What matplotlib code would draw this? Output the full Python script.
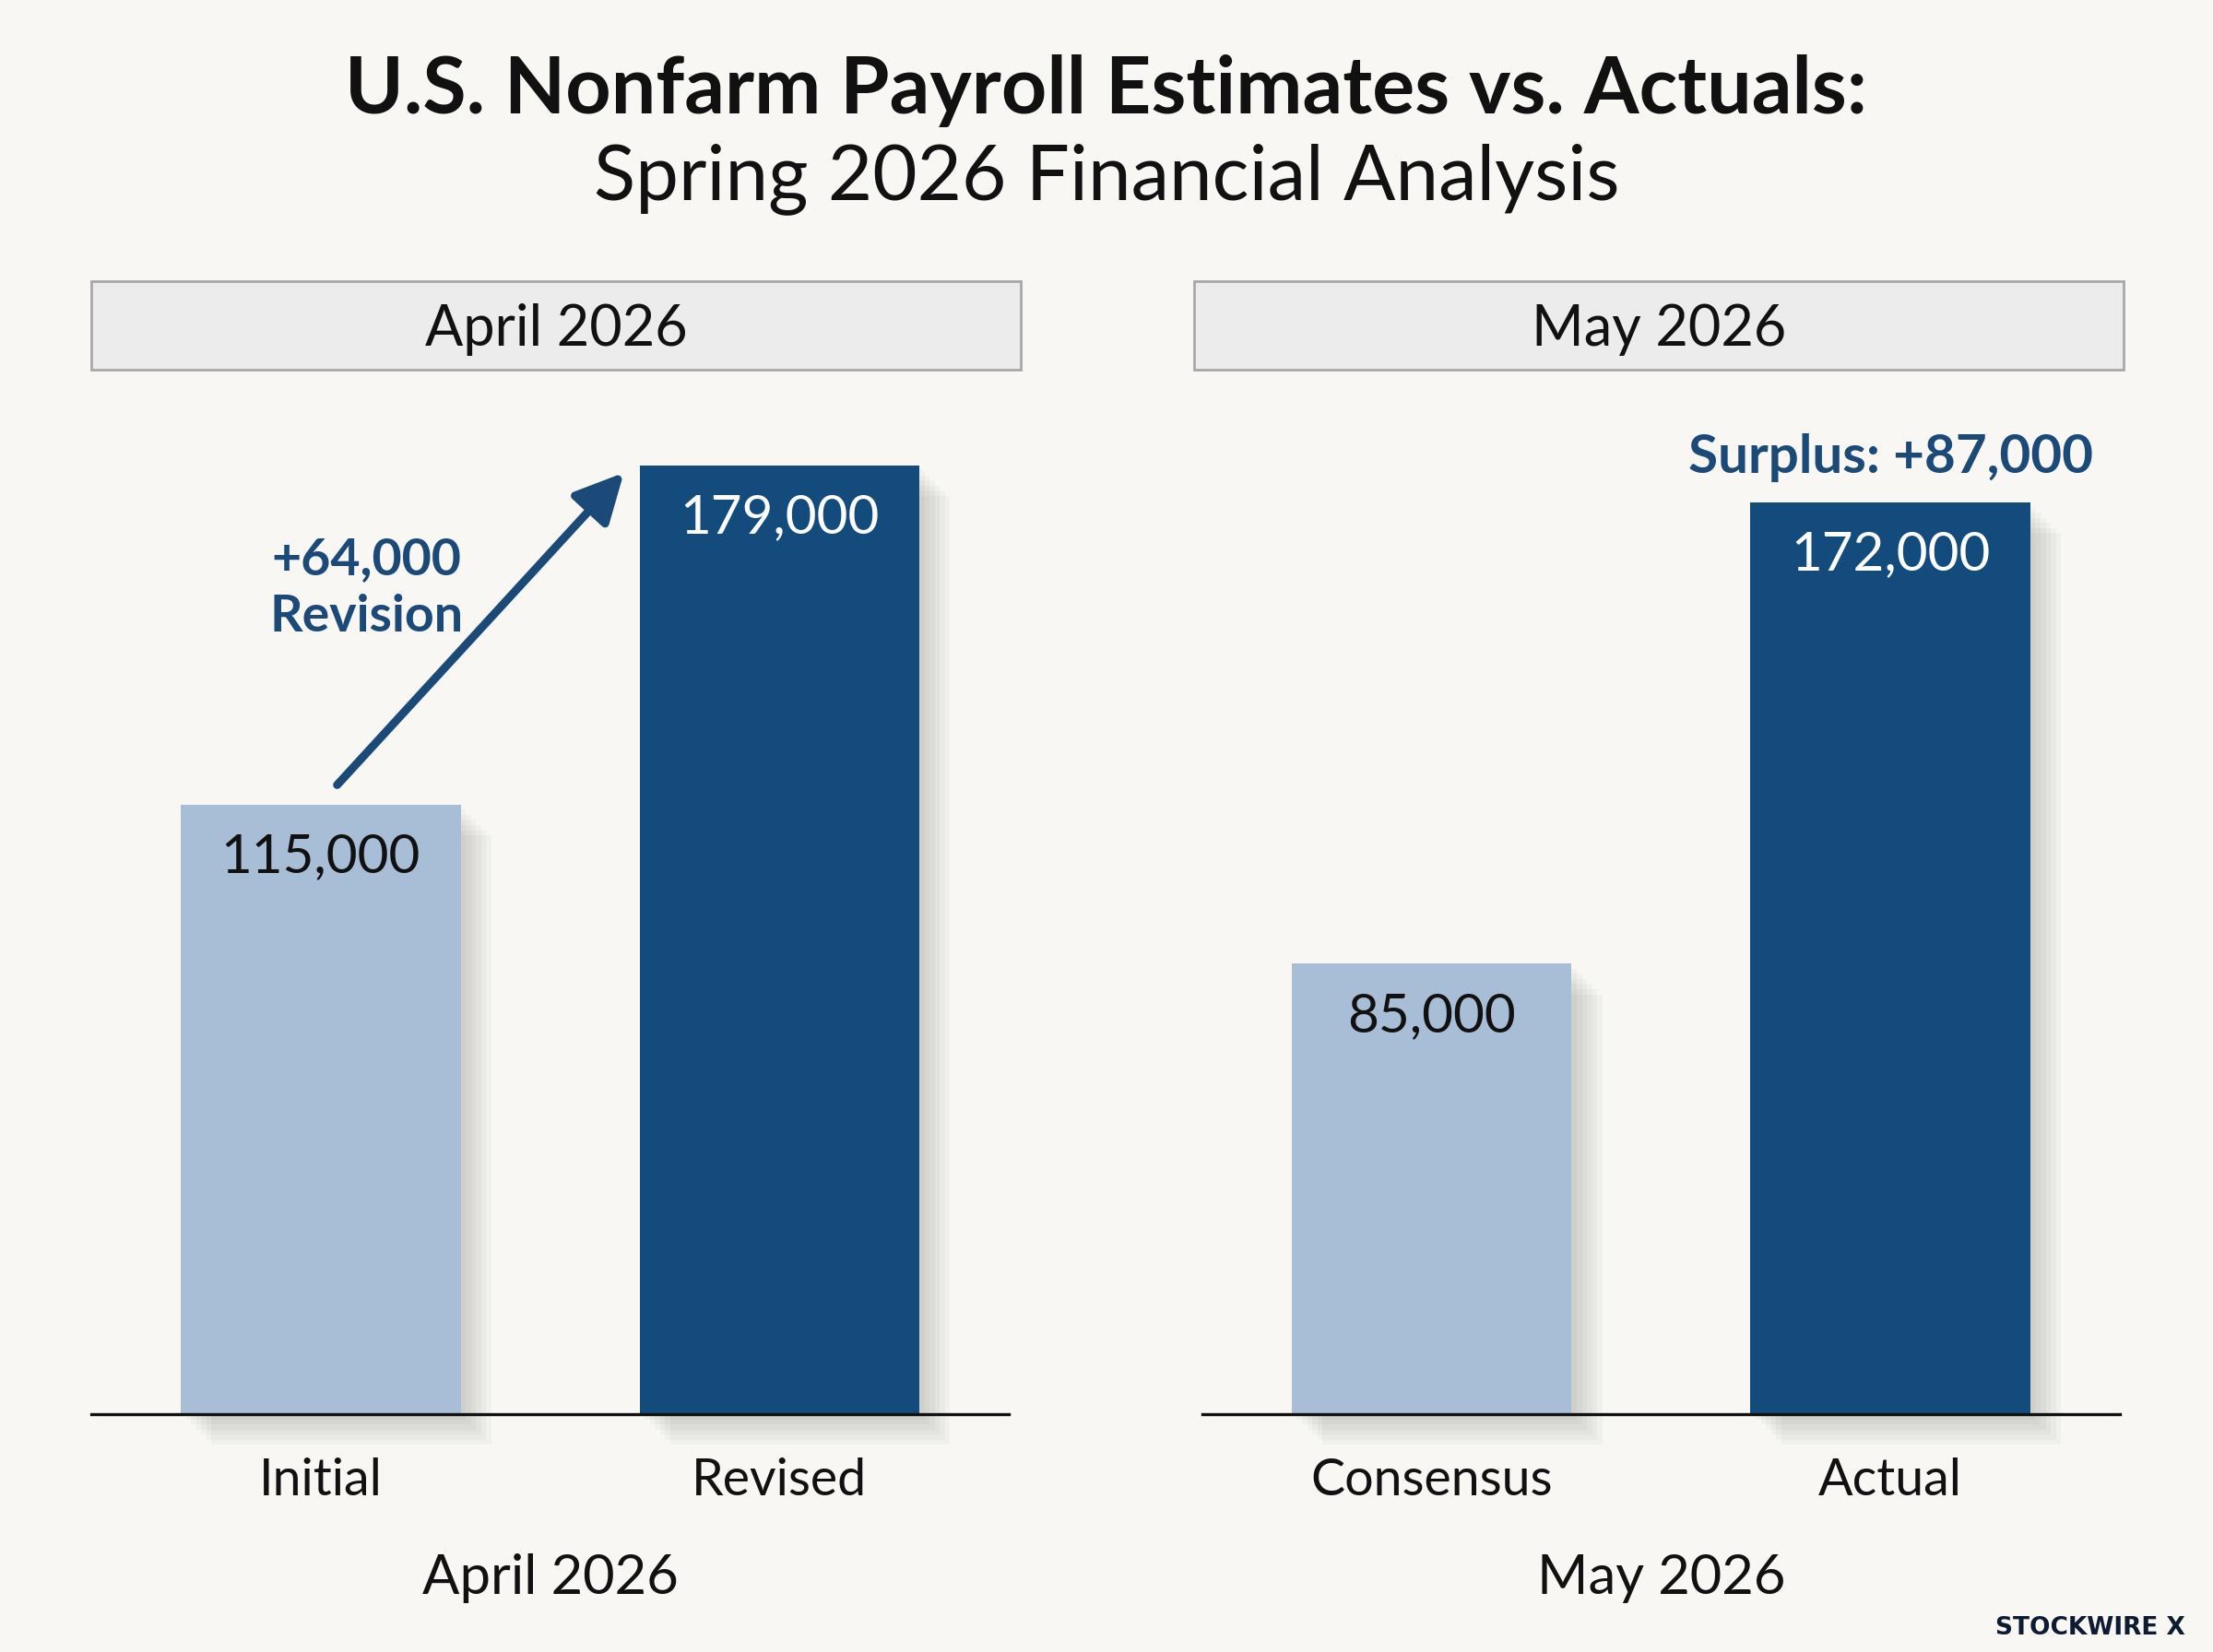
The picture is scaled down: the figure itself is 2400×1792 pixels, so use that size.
import numpy as np
import matplotlib.pyplot as plt
import matplotlib.patheffects as pe
from matplotlib.patches import Rectangle

plt.rcParams['font.family'] = ['Lato', 'DejaVu Sans']

# data
months = ["April 2026", "May 2026"]
april_labels = ["Initial", "Revised"]
april_values = [115000, 179000]
may_labels = ["Consensus", "Actual"]
may_values = [85000, 172000]

light = "#a8bdd6"
dark = "#134b7c"
navy_txt = "#1b4a78"
bg = "#f8f7f3"

fig = plt.figure(figsize=(12, 8.96), dpi=200, facecolor=bg)

fig.text(0.5, 0.9314, "U.S. Nonfarm Payroll Estimates vs. Actuals:", ha="center", va="baseline",
         fontsize=31, fontweight="bold", color="#111111")
fig.text(0.5, 0.8795, "Spring 2026 Financial Analysis", ha="center", va="baseline",
         fontsize=30, color="#111111")

# soft drop shadow, a few stacked offsets
shadow = [pe.SimplePatchShadow(offset=(k, -k), shadow_rgbFace="#555555", alpha=0.045)
          for k in (2, 4, 6, 8, 10, 12)]
shadow.append(pe.Normal())

def panel(left, box_left, title, labels, values):
    # header box
    fig.patches.append(Rectangle((box_left, 0.7762), 0.42, 0.0536, transform=fig.transFigure,
                                 facecolor="#ececec", edgecolor="#a8a8a8", lw=1.0))
    fig.text(box_left + 0.21, 0.7907, title, ha="center", va="baseline", fontsize=22, color="#111111")

    ax = fig.add_axes([left, 0.14397, 0.4146, 0.6161])
    ax.set_facecolor(bg)
    x = np.arange(len(values))
    bars = ax.bar(x, values, width=0.61, color=[light, dark], zorder=2, clip_on=False)
    for b in bars:
        b.set_path_effects(shadow)
    ax.set_xlim(-0.5, 1.5)
    ax.set_ylim(0, 192000)
    ax.axhline(0, color="#111111", lw=1.2, zorder=3, clip_on=False)
    for s in ax.spines.values():
        s.set_visible(False)
    ax.set_yticks([])
    ax.set_xticks(x)
    ax.set_xticklabels(labels, fontsize=20, color="#111111")
    ax.tick_params(axis="x", length=0, pad=17)
    ax.set_xlabel(title, fontsize=21.5, color="#111111", labelpad=19)
    for xi, v, c in zip(x, values, ["#111111", "white"]):
        ax.annotate(f"{v:,}", (xi, v), xytext=(0, -20.5), textcoords="offset points",
                    ha="center", va="center", fontsize=21, color=c, zorder=4)
    return ax

ax1 = panel(0.04125, 0.04125, months[0], april_labels, april_values)
ax2 = panel(0.5433, 0.5396, months[1], may_labels, may_values)

# revision arrow
rev = april_values[1] - april_values[0]
ax1.annotate("", xy=(0.661, april_values[1] - 1400), xytext=(0.036, april_values[0] + 3700),
             arrowprops=dict(arrowstyle="-|>", lw=3.2, color=navy_txt, mutation_scale=40,
                             shrinkA=0, shrinkB=0), zorder=5)
ax1.text(0.10, (april_values[0] + april_values[1]) / 2 + 8800, f"+{rev:,}\nRevision",
         ha="center", va="center", fontsize=20, fontweight="bold", color=navy_txt, linespacing=1.3)

# surplus label
sur = may_values[1] - may_values[0]
ax2.annotate(f"Surplus: +{sur:,}", (1, may_values[1]), xytext=(0, 17.6), textcoords="offset points",
             ha="center", va="center", fontsize=21, fontweight="bold", color=navy_txt, annotation_clip=False)

fig.text(0.9875, 0.0106, "STOCKWIRE X", ha="right", va="baseline", fontsize=9.5,
         fontweight="bold", family="DejaVu Sans", color="#0d1b33")

fig.savefig("out.png", dpi=200, facecolor=bg)
